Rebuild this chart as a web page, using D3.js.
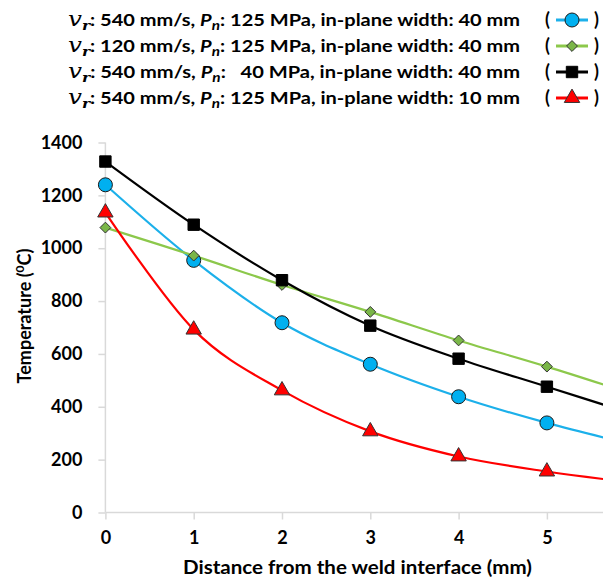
<!DOCTYPE html>
<html><head><meta charset="utf-8">
<script src="https://cdn.jsdelivr.net/npm/d3@7"></script>
<style>
html,body{margin:0;padding:0;background:#fff;}
svg{display:block;font-family:Lato,"Open Sans",sans-serif;font-weight:bold;}
</style></head>
<body>
<svg id="c" width="603" height="579"></svg>
<script>
// ---- data ----
const distances = [0, 1, 2, 3, 4, 5, 6];
const seriesNames = ["blue540", "green120", "black40MPa", "red10mm"];
const blueValues  = [1240, 954, 718, 561, 438, 339, 255];
const greenValues = [1078, 972, 861, 759, 651, 552, 445];
const blackValues = [1328, 1089, 879, 707, 582, 476, 370];
const redValues   = [1135, 692, 462, 307, 212, 155, 112];
const yTicks = [0, 200, 400, 600, 800, 1000, 1200, 1400];
const xTicks = [0, 1, 2, 3, 4, 5];
const legendSpeeds = ["540", "120", "540", "540"];
const legendPressures = ["125", "125", "\u00a0\u00a040", "125"];
const legendWidths = ["40", "40", "40", "10"];

const colors = ["#1cb0ea", "#8cc84b", "#000000", "#ff0000"];
const markerFill = ["#00b0f0", "#7ab648", "#000000", "#ff0000"];
const shapes = ["circle", "diamond", "square", "triangle"];
const allValues = [blueValues, greenValues, blackValues, redValues];

const svg = d3.select("#c");
const x = d3.scaleLinear().domain([0, 6]).range([105.4, 105.4 + 6 * 88.3]);
const y = d3.scaleLinear().domain([0, 1400]).range([512.5, 142.5]);

// axes
const axisColor = "#d9d9d9";
const gx = svg.append("g").attr("transform", `translate(0,${y(0)})`)
  .call(d3.axisBottom(x).tickValues(xTicks).tickSize(7).tickPadding(12).tickFormat(d3.format("d")));
gx.select(".domain").attr("d", `M${x(0)},0H603`);
const gy = svg.append("g").attr("transform", `translate(${x(0)},0)`)
  .call(d3.axisLeft(y).tickValues(yTicks).tickSize(7).tickPadding(16).tickFormat(d3.format("d")));
gy.select(".domain").attr("d", `M0,${y(1400)}V${y(0)}`);
[gx, gy].forEach(g => {
  g.selectAll(".domain").attr("stroke", axisColor).attr("stroke-width", 1.5);
  g.selectAll(".tick line").attr("stroke", axisColor).attr("stroke-width", 1.5);
  g.selectAll(".tick text").attr("fill", "#000").style("font-size", "18px")
    .style("font-family", "Lato, sans-serif").style("font-weight", "bold");
});

// axis titles
svg.append("text").attr("x", 357.5).attr("y", 574).attr("text-anchor", "middle")
  .style("font-size", "18px").attr("textLength", 349).attr("lengthAdjust", "spacingAndGlyphs")
  .text("Distance from the weld interface (mm)");
const yt = svg.append("text").attr("transform", "translate(31,316) rotate(-90)")
  .attr("text-anchor", "middle").style("font-size", "18px");
yt.append("tspan").text("Temperature (");
yt.append("tspan").attr("dy", -7).style("font-size", "12px").text("0");
yt.append("tspan").attr("dy", 7).text("C)");

// lines
const line = d3.line().x((d, i) => x(distances[i])).y(d => y(d)).curve(d3.curveCardinal.tension(0));
const plot = svg.append("g");
allValues.forEach((vals, s) => {
  plot.append("path").datum(vals).attr("d", line).attr("fill", "none")
    .attr("stroke", colors[s]).attr("stroke-width", 2.2);
});

function drawMarker(g, shape, fill, cx, cy) {
  if (shape === "circle") {
    g.append("circle").attr("cx", cx).attr("cy", cy).attr("r", 7)
      .attr("fill", fill).attr("stroke", "#1a1a1a").attr("stroke-width", 1);
  } else {
    const sym = shape === "diamond" ? d3.symbolDiamond2 : shape === "square" ? d3.symbolSquare2 : d3.symbolTriangle2;
    const size = shape === "diamond" ? 75 : shape === "square" ? 165 : 170;
    g.append("path").attr("d", d3.symbol(sym, size)())
      .attr("transform", `translate(${cx},${cy})`)
      .attr("fill", fill).attr("stroke", shape === "square" ? "#000" : "#333").attr("stroke-width", 1);
  }
}
allValues.forEach((vals, s) => {
  vals.forEach((v, i) => drawMarker(plot, shapes[s], markerFill[s], x(distances[i]), y(v)));
});

// legend
const rowY = [26, 52, 78, 104];
seriesNames.forEach((name, i) => {
  const t = svg.append("text").attr("x", 68).attr("y", rowY[i]).style("font-size", "17px")
    .attr("textLength", 452).attr("lengthAdjust", "spacingAndGlyphs").attr("xml:space", "preserve");
  t.append("tspan").style("font-family", "'DejaVu Serif', serif").style("font-style", "italic")
    .style("font-weight", "normal").style("font-size", "21px").text("v");
  t.append("tspan").attr("dy", 4).style("font-family", "'DejaVu Serif', serif").style("font-style", "italic")
    .style("font-size", "13px").text("r");
  t.append("tspan").attr("dy", -4).text(`: ${legendSpeeds[i]} mm/s, `);
  t.append("tspan").style("font-style", "italic").text("P");
  t.append("tspan").attr("dy", 4).style("font-style", "italic").style("font-size", "13px").text("n");
  t.append("tspan").attr("dy", -4).text(`: ${legendPressures[i]} MPa, in-plane width: ${legendWidths[i]} mm`);

  svg.append("text").attr("x", 545).attr("y", rowY[i]).style("font-size", "18px").text("(");
  svg.append("text").attr("x", 594).attr("y", rowY[i]).style("font-size", "18px").text(")");
  const my = rowY[i] - 6;
  svg.append("line").attr("x1", 556).attr("x2", 588).attr("y1", my).attr("y2", my)
    .attr("stroke", colors[i]).attr("stroke-width", 3);
  drawMarker(svg, shapes[i], markerFill[i], 572, my);
});
</script>
</body></html>
